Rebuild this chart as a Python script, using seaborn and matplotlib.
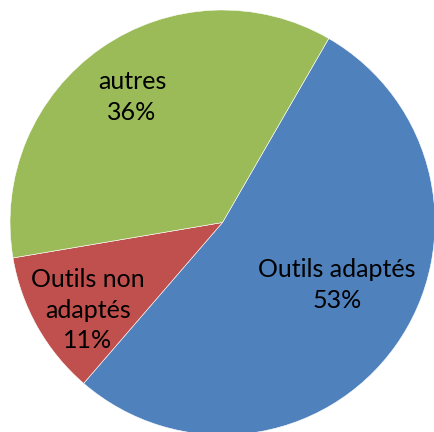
import matplotlib
matplotlib.use("Agg")
import matplotlib.pyplot as plt
import seaborn as sns

categories = ["Outils adaptés", "Outils non\nadaptés", "autres"]
shares = [53, 11, 36]
colors = ["#4F81BD", "#C0504D", "#9BBB59"]

# label centres, in pie radius units (Excel "best fit" placement)
label_pos = [(0.539, -0.294), (-0.633, -0.412), (-0.426, 0.591)]

sns.set_theme(style="white")
plt.rcParams["font.family"] = ["Lato", "DejaVu Sans"]

fig = plt.figure(figsize=(4.35, 4.32), dpi=100)
ax = fig.add_axes([10 / 435, -3 / 432, 425 / 435, 425 / 432])

wedges, _ = ax.pie(shares, colors=colors, startangle=60, counterclock=False,
                   radius=1, wedgeprops=dict(edgecolor="white", linewidth=0.4))

for cat, val, (x, y) in zip(categories, shares, label_pos):
    ax.text(x, y, f"{cat}\n{val}%", ha="center", va="center",
            fontsize=18, color="black", linespacing=1.38)

ax.set_xlim(-1, 1)
ax.set_ylim(-1, 1)
ax.set_aspect("equal")
ax.axis("off")

fig.savefig("out.png", dpi=100)
